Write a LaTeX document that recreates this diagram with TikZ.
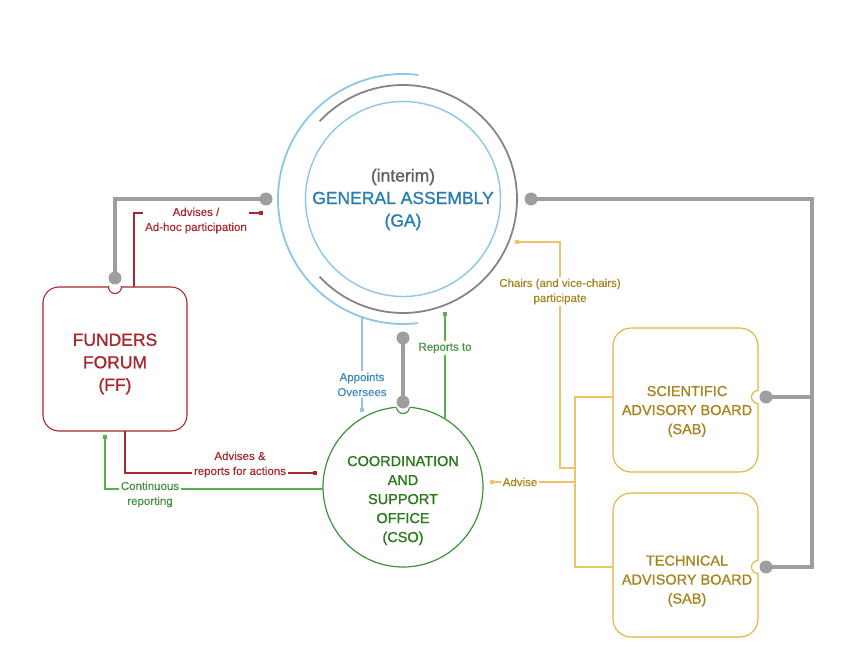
\documentclass[tikz,border=0pt]{standalone}
\usepackage{fontspec}
\setmainfont{Liberation Sans}
\newfontfamily\medfont[FakeBold=1.2]{Liberation Sans}
\newfontfamily\lblfamily[FakeBold=0.3]{Liberation Sans}
\usetikzlibrary{arrows.meta,calc}
\definecolor{ffred}{HTML}{A8282E}
\definecolor{gablue}{HTML}{2A7DB0}
\definecolor{ltblue}{HTML}{8DC6E8}
\definecolor{apblue}{HTML}{3C8AC4}
\definecolor{gline}{HTML}{9E9E9E}
\definecolor{gcirc}{HTML}{858585}
\definecolor{gtext}{HTML}{606060}
\definecolor{cgreen}{HTML}{3A923A}
\definecolor{ctext}{HTML}{2A7A1A}
\definecolor{lgreen}{HTML}{58B14C}
\definecolor{rtext}{HTML}{459142}
\definecolor{yline}{HTML}{EDC366}
\definecolor{ybox}{HTML}{E8B13A}
\definecolor{ytext}{HTML}{A8841F}
\tikzset{
  conn/.style={line width=3.2pt, gline},
  dot/.style={circle, fill=gline, inner sep=0pt, minimum size=13pt},
  lbl/.style={font=\lblfamily\fontsize{11.5}{15}\selectfont, fill=white, align=center, inner sep=2pt},
  sqend/.style={-{Square[length=4pt,width=4pt]}},
  redline/.style={ffred, line width=2pt},
  grnline/.style={lgreen, line width=2pt},
  bluline/.style={ltblue, line width=2pt},
  yelline/.style={yline, line width=2pt},
  big/.style={font=\medfont\fontsize{17.5}{22.5}\selectfont, align=center},
  mid/.style={font=\medfont\fontsize{14.5}{19}\selectfont, align=center},
}
\begin{document}
\begin{tikzpicture}[x=1pt,y=-1pt]
\useasboundingbox (0,0) rectangle (864,655);

% ---------- GA ----------
\node[circle, draw=ltblue, line width=1.4pt, minimum size=195pt, inner sep=0pt] (ga) at (403,199) {};
\draw[gcirc, line width=1.8pt] (ga.center) ++(-137:114) arc (-137:137:114);
\draw[ltblue, line width=1.8pt] (ga.center) ++(-83:125) arc (-83:-277:125);
\node[big] (gat) at (403,199.5) {\textcolor{gtext}{(interim)}\\\textcolor{gablue}{GENERAL ASSEMBLY}\\\textcolor{gablue}{(GA)}};

% ---------- FF ----------
\node[draw=ffred, line width=1.1pt, rounded corners=16pt, minimum width=144pt, minimum height=144pt, fill=white] (ff) at (115,359) {};
\node[big, text=ffred] (fft) at (115,364) {FUNDERS\\FORUM\\(FF)};

% ---------- CSO ----------
\node[circle, draw=cgreen, line width=1.2pt, minimum size=160pt, inner sep=0pt, fill=white] (cso) at (403,487) {};
\node[mid, text=ctext] (csot) at (403,500.5) {COORDINATION\\AND\\SUPPORT\\OFFICE\\(CSO)};

% ---------- SAB / TAB ----------
\node[draw=ybox, line width=1.1pt, rounded corners=18pt, minimum width=145pt, minimum height=144pt, fill=white] (sab) at (685.5,400) {};
\node[mid, text=ytext] (sabt) at (687,411.5) {SCIENTIFIC\\ADVISORY BOARD\\(SAB)};
\node[draw=ybox, line width=1.1pt, rounded corners=18pt, minimum width=145pt, minimum height=144pt, fill=white] (tab) at (685.5,565) {};
\node[mid, text=ytext] (tabt) at (687,581) {TECHNICAL\\ADVISORY BOARD\\(SAB)};

% ---------- notches ----------
\fill[white] (115,287) circle (7.2);
\begin{scope}\clip (ff.north west) rectangle (ff.south east);
\draw[ffred, line width=1.1pt] (115,287) circle (6.5);\end{scope}
\fill[white] (403,407) circle (7.2);
\begin{scope}\clip (cso.center) circle (80);
\draw[cgreen, line width=1.1pt] (403,407) circle (6.5);\end{scope}
\fill[white] (758,397) circle (7.2);
\begin{scope}\clip (sab.north west) rectangle (sab.south east);
\draw[ybox, line width=1.1pt] (758,397) circle (6.5);\end{scope}
\fill[white] (758,567) circle (7.2);
\begin{scope}\clip (tab.north west) rectangle (tab.south east);
\draw[ybox, line width=1.1pt] (758,567) circle (6.5);\end{scope}

% ---------- dots ----------
\coordinate (gaL) at (266,199);
\coordinate (gaR) at (531,199);
\coordinate (gaB) at (403,338);
\coordinate (csoT) at (403,402);
\coordinate (ffT) at (115,278);
\coordinate (sabR) at (766,397);
\coordinate (tabR) at (766,567);
\coordinate (busTop) at (812,199);
\coordinate (busBot) at (812,567);
\coordinate (busSab) at (812,397);

\draw[conn] (gaL) -| (ffT);
\draw[conn] (gaR) -- (busTop) -- (busBot) -- (tabR);
\draw[conn] (sabR) -- (busSab);
\draw[conn] (gaB) -- (csoT);
\foreach \p in {gaL,gaR,gaB,csoT,ffT,sabR,tabR} \node[dot] at (\p) {};

% ---------- red ----------
\coordinate (r1s) at (134,287);
\coordinate (r1e) at (263,213);
\draw[redline, sqend] (r1s) |- (r1e);
\node[lbl, text=ffred] (l1) at (196,220.5) {Advises /\\Ad-hoc participation};
\coordinate (r2s) at (125,431);
\coordinate (r2e) at (317,473);
\draw[redline, sqend] (r2s) |- (r2e);
\node[lbl, text=ffred, inner ysep=0pt] (l2) at (240,464.5) {Advises \&\\reports for actions};

% ---------- green ----------
\coordinate (g1s) at (323,489);
\coordinate (g1e) at (105,435);
\draw[grnline, sqend] (g1s) -| (g1e);
\node[lbl, text=rtext] (l3) at (150,494.5) {Continuous\\reporting};
\coordinate (g2s) at (445,419);
\coordinate (g2e) at (445,312);
\draw[grnline, sqend] (g2s) -- (g2e);
\node[lbl, text=rtext] (l4) at (445,348) {Reports to};

% ---------- blue ----------
\coordinate (b1s) at (362,317);
\coordinate (b1e) at (362,412);
\draw[bluline, sqend] (b1s) -- (b1e);
\node[lbl, text=apblue] (l5) at (362,384.5) {Appoints\\Oversees};

% ---------- yellow ----------
\coordinate (yj) at (575,468);
\coordinate (yc) at (515,242);
\draw[yelline, sqend] (yj) -- (560,468) -- (560,242) -- (yc);
\node[lbl, text=ytext] (l6) at (560,291.5) {Chairs (and vice-chairs)\\participate};
\coordinate (ysab) at (613,397);
\coordinate (ytab) at (613,567);
\draw[yelline] (ysab) -- (575,397) -- (575,567) -- (ytab);
\coordinate (ya) at (575,482);
\coordinate (yae) at (490,482);
\draw[yelline, sqend] (ya) -- (yae);
\node[lbl, text=ytext] (l7) at (520,482) {Advise};
\end{tikzpicture}
\end{document}
